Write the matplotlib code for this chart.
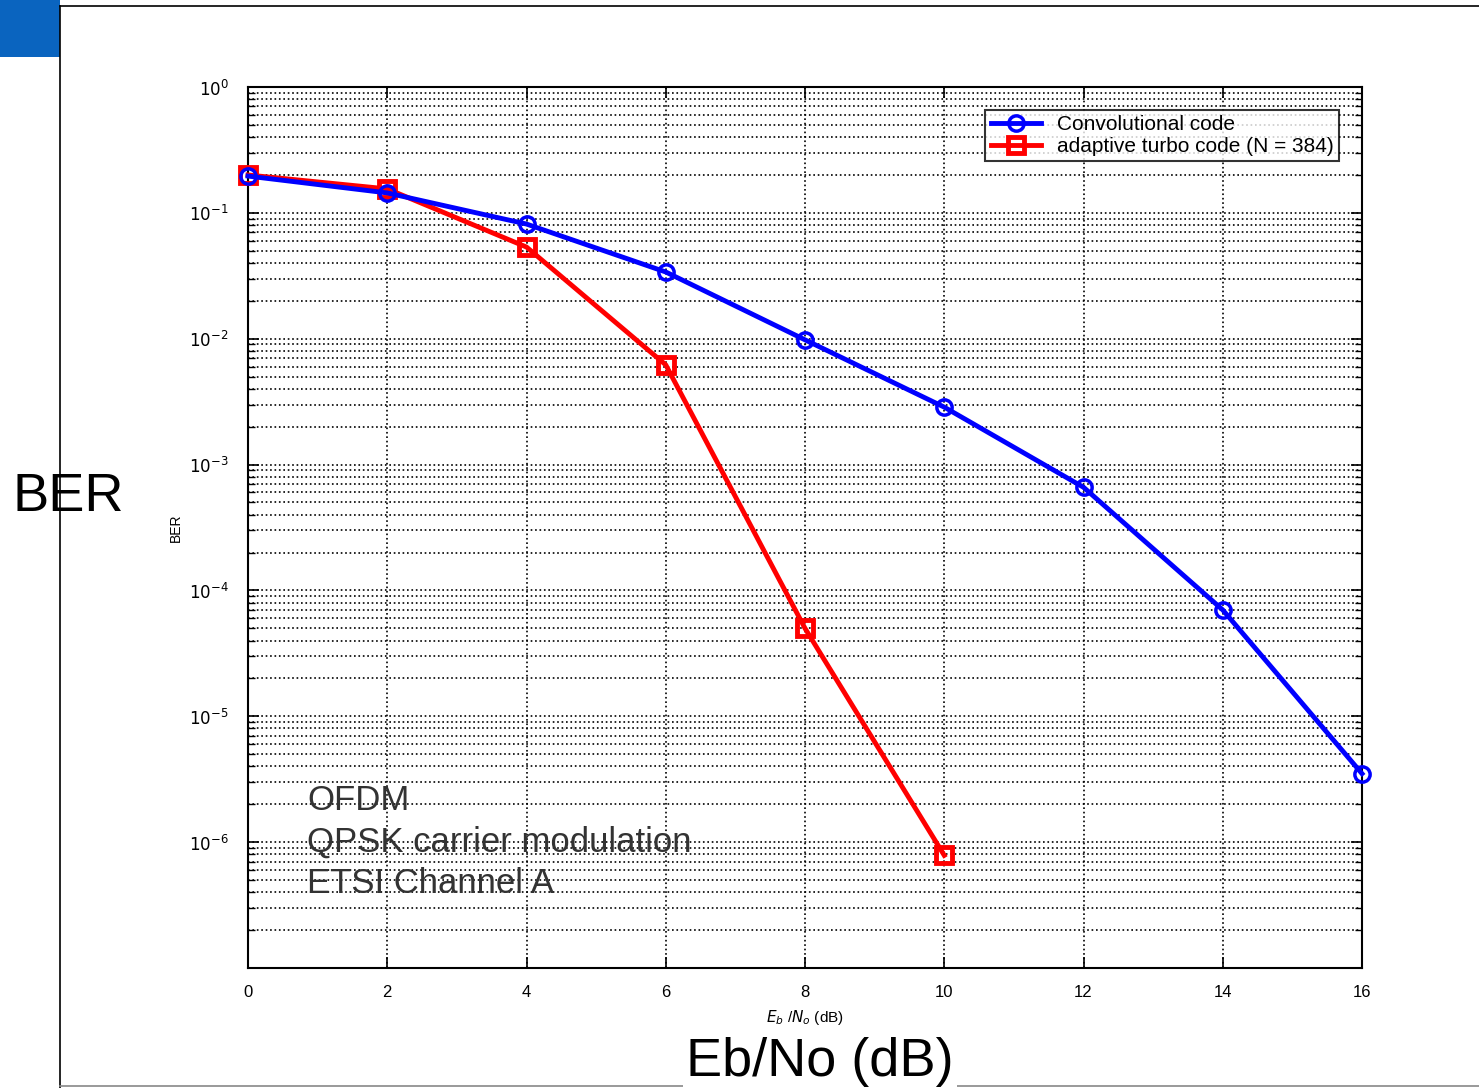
import matplotlib.pyplot as plt
from matplotlib.patches import Rectangle
from matplotlib.lines import Line2D
from matplotlib import ticker

# data
snr_db = [0, 2, 4, 6, 8, 10, 12, 14, 16]
ber_conv = [0.196, 0.144, 0.0815, 0.0339, 0.0098, 2.86e-3, 6.6e-4, 7.0e-5, 3.5e-6]
snr_turbo = [0, 2, 4, 6, 8, 10]
ber_turbo = [0.20, 0.155, 0.0535, 6.2e-3, 5.0e-5, 7.85e-7]

x_ticks = [0, 2, 4, 6, 8, 10, 12, 14, 16]
y_ticks = [1e0, 1e-1, 1e-2, 1e-3, 1e-4, 1e-5, 1e-6, 1e-7]
y_labels = ['$10^{0}$', '$10^{-1}$', '$10^{-2}$', '$10^{-3}$', '$10^{-4}$',
            '$10^{-5}$', '$10^{-6}$', '']

plt.rcParams['font.family'] = ['Liberation Sans', 'DejaVu Sans']

W, H = 1479, 1088
fig = plt.figure(figsize=(W / 100, H / 100), dpi=100)
fig.patch.set_facecolor('white')

# slide decorations
fig.add_artist(Rectangle((0, 1 - 57 / H), 60 / W, 57 / H, transform=fig.transFigure,
                         facecolor='#0a64bf', edgecolor='none'))
fig.add_artist(Line2D([60 / W, 1], [1 - 6 / H, 1 - 6 / H], transform=fig.transFigure,
                      color='black', lw=1.2))
fig.add_artist(Line2D([60 / W, 60 / W], [0, 1 - 6 / H], transform=fig.transFigure,
                      color='black', lw=1.2))
fig.add_artist(Line2D([60 / W, 1], [2 / H, 2 / H], transform=fig.transFigure,
                      color='#888888', lw=1.2))

ax = fig.add_axes([248 / W, (H - 968) / H, (1362 - 248) / W, (968 - 87) / H])
ax.set_yscale('log')
ax.set_xlim(0, 16)
ax.set_ylim(1e-7, 1e0)

ax.plot(snr_turbo, ber_turbo, color='#ff0000', lw=3.5, marker='s', ms=12,
        mfc='none', mec='#ff0000', mew=3.5, label='adaptive turbo code (N = 384)',
        zorder=3, clip_on=False)
ax.plot(snr_db, ber_conv, color='#0000ff', lw=3.5, marker='o', ms=11,
        mfc='none', mec='#0000ff', mew=2.5, label='Convolutional code',
        zorder=4, clip_on=False)

ax.set_xticks(x_ticks)
ax.set_yticks(y_ticks)
ax.set_yticklabels(y_labels)
ax.yaxis.set_minor_locator(ticker.LogLocator(base=10, subs=range(2, 10), numticks=20))
ax.yaxis.set_minor_formatter(ticker.NullFormatter())
ax.tick_params(which='both', direction='in', top=True, right=True, labelsize=12)
ax.tick_params(which='major', length=8, width=1.2)
ax.tick_params(which='minor', length=5, width=1.0)
ax.tick_params(axis='x', pad=12)
ax.tick_params(axis='y', pad=14)
for s in ax.spines.values():
    s.set_linewidth(1.5)

ax.grid(True, which='major', linestyle=':', color='black', lw=1.2)
ax.grid(True, which='minor', axis='y', linestyle=':', color='black', lw=1.2)

handles, labels = ax.get_legend_handles_labels()
leg = ax.legend(handles[::-1], labels[::-1], loc='upper right', bbox_to_anchor=(0.989, 0.986),
                fontsize=15, frameon=True, fancybox=False, edgecolor='black',
                borderpad=0.25, handlelength=2.4, labelspacing=0.15)
leg.get_frame().set_linewidth(1.5)

ax.set_xlabel('$E_b$ /$N_o$ (dB)', fontsize=11, labelpad=6)
ax.set_ylabel('BER', fontsize=10, labelpad=4)

ax.text(0.85, 1.0e-6, 'OFDM\nQPSK carrier modulation\nETSI Channel A',
        fontsize=25, color='#333333', va='center', ha='left', linespacing=1.32)

# slide labels
fig.text(68 / W, 1 - 497 / H, 'BER', fontsize=39, ha='center', va='center', color='black')
fig.text(820 / W, 1 - 1062 / H, 'Eb/No (dB)', fontsize=39, ha='center', va='center',
         color='black', bbox=dict(facecolor='white', edgecolor='none', pad=2))

fig.savefig('out.png', dpi=100, facecolor='white')
